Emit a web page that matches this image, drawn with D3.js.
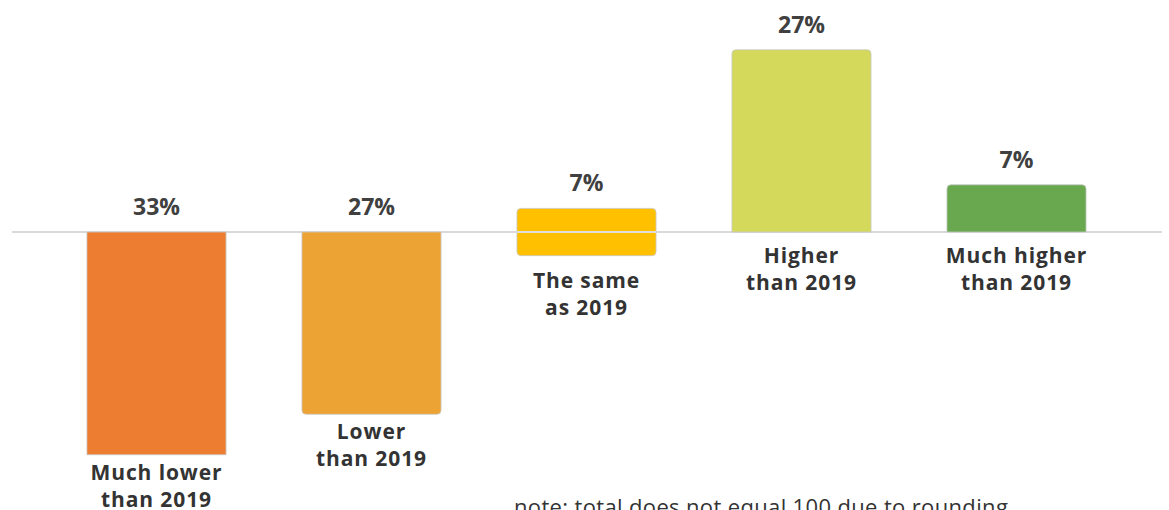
<!DOCTYPE html>
<html>
<head>
<meta charset="utf-8">
<script src="https://cdn.jsdelivr.net/npm/d3@7"></script>
<style>
  html, body { margin: 0; padding: 0; background: #ffffff; }
  svg { display: block; }
  text { font-family: "Open Sans", "DejaVu Sans", sans-serif; }
</style>
</head>
<body>
<svg id="chart" width="1169" height="510"></svg>
<script>
// Survey answers, compared with 2019
const categories = ["Much lower|than 2019", "Lower|than 2019", "The same|as 2019", "Higher|than 2019", "Much higher|than 2019"];
const values = [-33, -27, 7, 27, 7];         // signed share, %
const valueLabels = ["33%", "27%", "7%", "27%", "7%"];
const centered = [false, false, true, false, false]; // "the same" straddles the baseline
const colors = ["#ED7D31", "#EDA333", "#FFC000", "#D4D95B", "#69A84F"];
const note = "note: total does not equal 100 due to rounding";

const svg = d3.select("#chart");

const x = d3.scaleBand()
  .domain(categories)
  .range([49, 1124])
  .paddingInner(0.353)
  .paddingOuter(0.1765);

// 0 sits at y = 232, 6.75 px per percentage point
const y = d3.scaleLinear()
  .domain([-35, 30])
  .range([232 + 35 * 6.75, 232 - 30 * 6.75]);

const y0 = y(0);
const r = 4;

// bar extent: top/bottom in pixels
function extent(v, i) {
  if (centered[i]) return [y(v / 2), y(-v / 2)];
  return v >= 0 ? [y(v), y0] : [y0, y(v)];
}

// rectangle path with rounded corners on chosen ends
function barPath(x0, w, top, bot, roundTop, roundBot) {
  const rt = roundTop ? r : 0, rb = roundBot ? r : 0;
  return `M${x0 + rt},${top}H${x0 + w - rt}` +
    (rt ? `Q${x0 + w},${top} ${x0 + w},${top + rt}` : "") +
    `V${bot - rb}` +
    (rb ? `Q${x0 + w},${bot} ${x0 + w - rb},${bot}` : "") +
    `H${x0 + rb}` +
    (rb ? `Q${x0},${bot} ${x0},${bot - rb}` : "") +
    `V${top + rt}` +
    (rt ? `Q${x0},${top} ${x0 + rt},${top}` : "") + "Z";
}

const data = categories.map((c, i) => ({ c, v: values[i], i }));

// baseline
svg.append("line")
  .attr("x1", 12).attr("x2", 1162)
  .attr("y1", y0).attr("y2", y0)
  .attr("stroke", "#d9d9d9")
  .attr("stroke-width", 2);

// bars
svg.selectAll("path.bar")
  .data(data)
  .join("path")
  .attr("class", "bar")
  .attr("d", d => {
    const [t, b] = extent(d.v, d.i);
    const roundTop = centered[d.i] || d.v > 0;
    const roundBot = centered[d.i] || (d.v < 0 && d.i !== 0);
    return barPath(x(d.c), x.bandwidth(), t, b, roundTop, roundBot);
  })
  .attr("fill", d => colors[d.i])
  .attr("stroke", "#c9c9c9")
  .attr("stroke-width", 0.8);

// redraw the baseline across the centered bar
svg.selectAll("line.mid")
  .data(data.filter(d => centered[d.i]))
  .join("line")
  .attr("class", "mid")
  .attr("x1", d => x(d.c)).attr("x2", d => x(d.c) + x.bandwidth())
  .attr("y1", y0).attr("y2", y0)
  .attr("stroke", "#dedede")
  .attr("stroke-width", 2);

// value labels above the bar (or above the baseline for negatives)
svg.selectAll("text.val")
  .data(data)
  .join("text")
  .attr("class", "val")
  .attr("x", d => x(d.c) + x.bandwidth() / 2)
  .attr("y", d => {
    const [t] = extent(d.v, d.i);
    return d.v < 0 ? y0 - 17 : t - 17;
  })
  .attr("text-anchor", "middle")
  .attr("font-size", 23)
  .attr("font-weight", 700)
  .attr("fill", "#404040")
  .text(d => valueLabels[d.i]);

// category labels below the bar (or below the baseline for positives)
const cat = svg.selectAll("text.cat")
  .data(data)
  .join("text")
  .attr("class", "cat")
  .attr("text-anchor", "middle")
  .attr("font-size", 21)
  .attr("font-weight", 700)
  .attr("letter-spacing", 0.9)
  .attr("fill", "#333333")
  .attr("transform", d => {
    const [, b] = extent(d.v, d.i);
    let base;
    if (centered[d.i]) base = b + 32;
    else if (d.v < 0) base = b + 25;
    else base = y0 + 31;
    return `translate(${x(d.c) + x.bandwidth() / 2},${base})`;
  });

cat.selectAll("tspan")
  .data(d => d.c.split("|"))
  .join("tspan")
  .attr("x", 0)
  .attr("dy", (s, k) => k === 0 ? 0 : 27)
  .text(s => s);

// footnote
svg.append("text")
  .attr("x", 514)
  .attr("y", 515)
  .attr("font-size", 22)
  .attr("letter-spacing", 0.35)
  .attr("fill", "#333333")
  .text(note);
</script>
</body>
</html>
